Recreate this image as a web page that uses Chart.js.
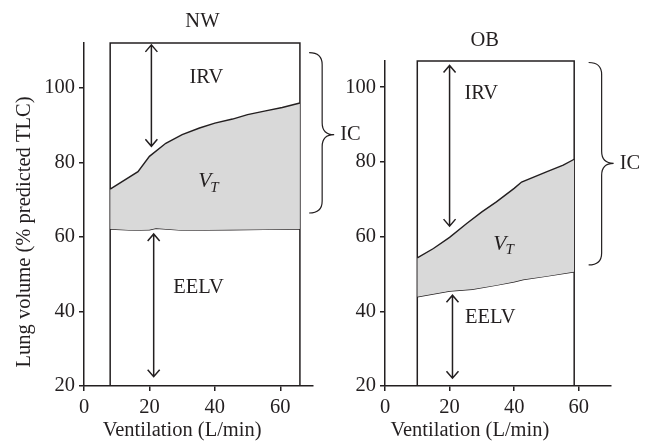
<!DOCTYPE html>
<html>
<head>
<meta charset="utf-8">
<title>Lung volume vs ventilation</title>
<script src="https://cdn.jsdelivr.net/npm/chart.js@4"></script>
<style>
  html, body { margin:0; padding:0; background:#fff; }
  #wrap { position:relative; width:651px; height:444px; }
  #wrap canvas { position:absolute; left:0; top:0; }
</style>
</head>
<body>
<div id="wrap">
  <canvas id="nw" width="651" height="444"></canvas>
  <canvas id="ob" width="651" height="444"></canvas>
</div>
<script>
// NW panel: end-inspiratory (top of VT) and end-expiratory lung volume
const nwVent    = [8, 16.5, 20, 25, 30, 35.3, 40, 45.4, 50, 55.5, 60.6, 66];
const nwEilv    = [72.8, 77.5, 81.6, 85.1, 87.4, 89.2, 90.5, 91.6, 92.8, 93.8, 94.7, 95.9];
const nwEndVent = [8, 15, 20, 22, 30, 45, 55, 66];
const nwEelv    = [62.1, 61.8, 61.9, 62.3, 61.8, 61.9, 62.0, 62.1];
const nwBoxX    = [8, 8, 66, 66];
const nwBoxY    = [20, 112, 112, 20];

// OB panel
const obVent    = [10, 15, 20, 25.3, 30, 34.5, 40, 42.3, 50, 55.2, 58.6];
const obEilv    = [54.3, 56.8, 59.8, 63.5, 66.6, 69.3, 72.9, 74.6, 77.3, 79.1, 80.7];
const obEndVent = [10, 20, 27, 34.5, 40, 42.8, 50, 58.6];
const obEelv    = [43.9, 45.4, 45.9, 47.0, 47.9, 48.5, 49.4, 50.6];
const obBoxX    = [10, 10, 58.6, 58.6];
const obBoxY    = [20, 107, 107, 20];

// double arrows: [x, from, to]
const nwArrows = [[20.6, 111.5, 84.3], [21.3, 60.8, 22.5]];
const obArrows = [[20, 105.8, 62.8], [20.9, 44.3, 22.1]];

// text labels: [text, x, y]
const nwLabels = [["IRV", 37.4, 102.7], ["EELV", 35, 46.5]];
const obLabels = [["IRV", 29.8, 98.3], ["EELV", 32.6, 38.2]];
const nwVt = [38.3, 74.8];
const obVt = [37, 58];

// IC brace: [x, top, middle, bottom]
const nwIc = [72.8, 109.4, 87.4, 66.4];
const obIc = [67.1, 106.6, 79.6, 52.4];

const xTicks = [0, 20, 40, 60];
const yTicks = [20, 40, 60, 80, 100];

const ink = "#231f20";
const serif = "'Liberation Serif', 'Times New Roman', serif";
const fs = 20.5;

function pts(xs, ys){ return xs.map((v,i)=>({x:v, y:ys[i]})); }

function arrow(ctx, x, y1, y2){
  const w = 6, h = 7;
  ctx.beginPath();
  ctx.moveTo(x, y1); ctx.lineTo(x, y2);
  ctx.moveTo(x - w, y1 + h); ctx.lineTo(x, y1); ctx.lineTo(x + w, y1 + h);
  ctx.moveTo(x - w, y2 - h); ctx.lineTo(x, y2); ctx.lineTo(x + w, y2 - h);
  ctx.stroke();
}

function brace(ctx, x, yt, ym, yb){
  const hook = 13, tip = 12, r = 12;
  ctx.beginPath();
  ctx.moveTo(x - hook, yt);
  ctx.quadraticCurveTo(x, yt, x, yt + r);
  ctx.lineTo(x, ym - r);
  ctx.quadraticCurveTo(x, ym, x + tip, ym);
  ctx.quadraticCurveTo(x, ym, x, ym + r);
  ctx.lineTo(x, yb - r);
  ctx.quadraticCurveTo(x, yb, x - hook, yb);
  ctx.stroke();
  return x + tip;
}

// annotations drawn on top of each panel
function decor(cfg){
  return {
    id: "decor",
    afterDraw(chart){
      const {ctx, scales:{x, y}} = chart;
      ctx.save();
      ctx.strokeStyle = ink; ctx.fillStyle = ink;
      ctx.lineWidth = 1.5;
      cfg.arrows.forEach(([v,a,b]) => arrow(ctx, x.getPixelForValue(v), y.getPixelForValue(a), y.getPixelForValue(b)));

      ctx.font = `${fs}px ${serif}`;
      ctx.textAlign = "center"; ctx.textBaseline = "middle";
      cfg.labels.forEach(([t,a,b]) => ctx.fillText(t, x.getPixelForValue(a), y.getPixelForValue(b)));

      // V subscript T
      const vx = x.getPixelForValue(cfg.vt[0]), vy = y.getPixelForValue(cfg.vt[1]);
      ctx.font = `italic ${fs+1}px ${serif}`;
      ctx.textAlign = "right";
      ctx.fillText("V", vx + 2, vy);
      ctx.font = `italic 15px ${serif}`;
      ctx.textAlign = "left";
      ctx.fillText("T", vx + 1, vy + 6);

      // IC brace
      ctx.lineWidth = 1.2;
      const [bx, bt, bm, bb] = cfg.ic;
      const tx = brace(ctx, x.getPixelForValue(bx), y.getPixelForValue(bt), y.getPixelForValue(bm), y.getPixelForValue(bb));
      ctx.font = `${fs}px ${serif}`;
      ctx.textAlign = "left";
      ctx.fillText("IC", tx + 6, y.getPixelForValue(bm));

      // panel title and axis titles
      ctx.textAlign = "center";
      ctx.fillText(cfg.title, x.getPixelForValue(cfg.titleX), cfg.titleY);
      ctx.fillText("Ventilation (L/min)", x.getPixelForValue(cfg.xTitleX), 431);
      if (cfg.yTitle) {
        ctx.translate(25, 232);
        ctx.rotate(-Math.PI/2);
        ctx.fillText(cfg.yTitle, 0, 0);
      }
      ctx.restore();
    }
  };
}

function panel(id, p){
  const line = {pointRadius:0, borderColor:ink, borderWidth:1.4, tension:0, clip:false};
  return new Chart(document.getElementById(id), {
    type: "line",
    data: {
      datasets: [
        {...line, data: pts(p.vent, p.eilv), fill: "+1", backgroundColor: "#d9d9d9"},
        {...line, data: pts(p.endVent, p.eelv), fill: false},
        {...line, data: pts(p.boxX, p.boxY), fill: false, borderWidth:1.5}
      ]
    },
    options: {
      responsive: false, animation: false, devicePixelRatio: 1,
      events: [],
      layout: { padding: p.pad },
      plugins: { legend:{display:false}, tooltip:{enabled:false} },
      scales: {
        x: {
          type: "linear", min: 0, max: 70,
          afterFit: s => { s.height = 58; },
          afterBuildTicks: s => { s.ticks = xTicks.map(v=>({value:v})); },
          border: {color: ink, width: 1.5},
          grid: {drawOnChartArea:false, drawTicks:true, tickLength:5, color:ink, lineWidth:1.5},
          ticks: {color: ink, padding: 4, font: {family: serif, size: fs}}
        },
        y: {
          type: "linear", min: 20, max: p.yMax,
          afterFit: s => { s.width = p.yWidth; },
          afterBuildTicks: s => { s.ticks = yTicks.map(v=>({value:v})); },
          border: {color: ink, width: 1.5},
          grid: {drawOnChartArea:false, drawTicks:true, tickLength:5, color:ink, lineWidth:1.5},
          ticks: {color: ink, padding: 4, font: {family: serif, size: fs}}
        }
      }
    },
    plugins: [decor(p.decor)]
  });
}

panel("nw", {
  vent: nwVent, eilv: nwEilv, endVent: nwEndVent, eelv: nwEelv, boxX: nwBoxX, boxY: nwBoxY,
  yMax: 112, yWidth: 84, pad: {left:0, top:43, right:338, bottom:0},
  decor: {arrows: nwArrows, labels: nwLabels, vt: nwVt, ic: nwIc,
          title: "NW", titleX: 36.2, titleY: 22, xTitleX: 30,
          yTitle: "Lung volume (% predicted TLC)"}
});

panel("ob", {
  vent: obVent, eilv: obEilv, endVent: obEndVent, eelv: obEelv, boxX: obBoxX, boxY: obBoxY,
  yMax: 107, yWidth: 55, pad: {left:330, top:61, right:40, bottom:0},
  decor: {arrows: obArrows, labels: obLabels, vt: obVt, ic: obIc,
          title: "OB", titleX: 30.9, titleY: 41, xTitleX: 26.3}
});
</script>
</body>
</html>
